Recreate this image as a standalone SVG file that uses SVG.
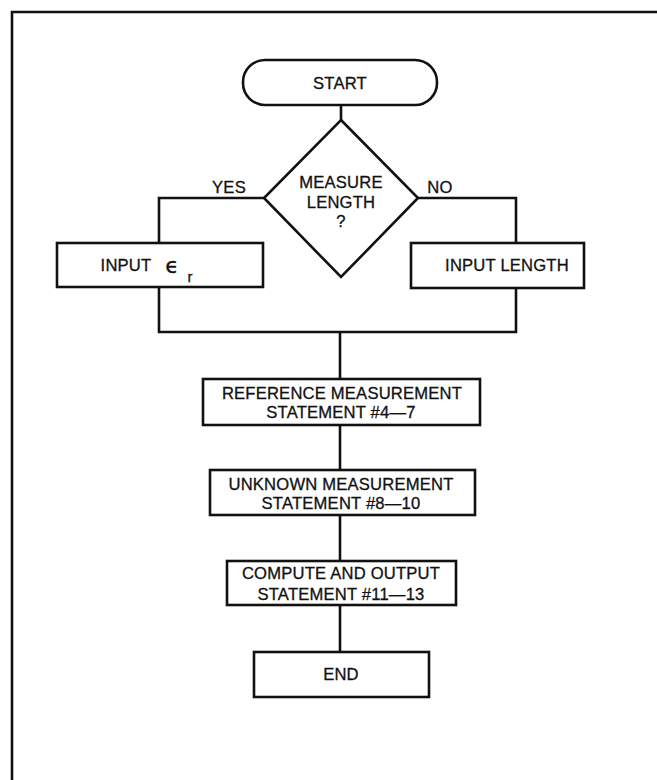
<svg xmlns="http://www.w3.org/2000/svg" width="657" height="780" viewBox="0 0 657 780">
<style>
.s{fill:none;stroke:#111;stroke-width:2.6;stroke-linejoin:miter}
.b{fill:#fff;stroke:#111;stroke-width:2.6}
text{font-family:"Liberation Sans",Arial,sans-serif;font-size:16.6px;fill:#111;stroke:#111;stroke-width:0.3;text-anchor:middle;letter-spacing:0.2px}
</style>
<rect width="657" height="780" fill="#fff"/>
<g id="frame"><path class="s" d="M12,780 V12 H657"/></g>
<g id="connectors">
<path class="s" d="M341,105 V120"/>
<path class="s" d="M264,198 H159 V243"/>
<path class="s" d="M418,198 H516 V243"/>
<path class="s" d="M159,287 V332 H516 V288"/>
<path class="s" d="M340,332 V379"/>
<path class="s" d="M340,425 V470"/>
<path class="s" d="M340,515 V561"/>
<path class="s" d="M340,605 V652"/>
</g>
<g id="start"><rect class="b" x="243" y="60" width="194" height="45" rx="22"/><text x="340" y="89">START</text></g>
<g id="decision"><path class="b" d="M341,120 L418,198 L341,277 L264,198 Z"/>
<text x="341" y="188">MEASURE</text><text x="341" y="208">LENGTH</text><text x="341" y="227">?</text></g>
<g id="lbl-yes"><text x="229" y="193">YES</text></g>
<g id="lbl-no"><text x="440" y="193">NO</text></g>
<g id="input-er"><rect class="b" x="57" y="243" width="206" height="44"/><text x="126" y="271">INPUT</text><text x="172" y="273" style="font-family:'DejaVu Sans',sans-serif;font-size:22px">ϵ</text><text x="190" y="282" style="font-size:15px">r</text></g>
<g id="input-length"><rect class="b" x="411" y="243" width="173" height="45"/><text x="507" y="271">INPUT LENGTH</text></g>
<g id="ref"><rect class="b" x="203" y="379" width="277" height="46"/><text x="342" y="399">REFERENCE MEASUREMENT</text><text x="341" y="418">STATEMENT #4—7</text></g>
<g id="unknown"><rect class="b" x="210" y="470" width="265" height="45"/><text x="341" y="490">UNKNOWN MEASUREMENT</text><text x="341" y="509">STATEMENT #8—10</text></g>
<g id="compute"><rect class="b" x="227" y="561" width="229" height="44"/><text x="341" y="579">COMPUTE AND OUTPUT</text><text x="341" y="600">STATEMENT #11—13</text></g>
<g id="end"><rect class="b" x="254" y="652" width="175" height="45"/><text x="341" y="680">END</text></g>
</svg>
